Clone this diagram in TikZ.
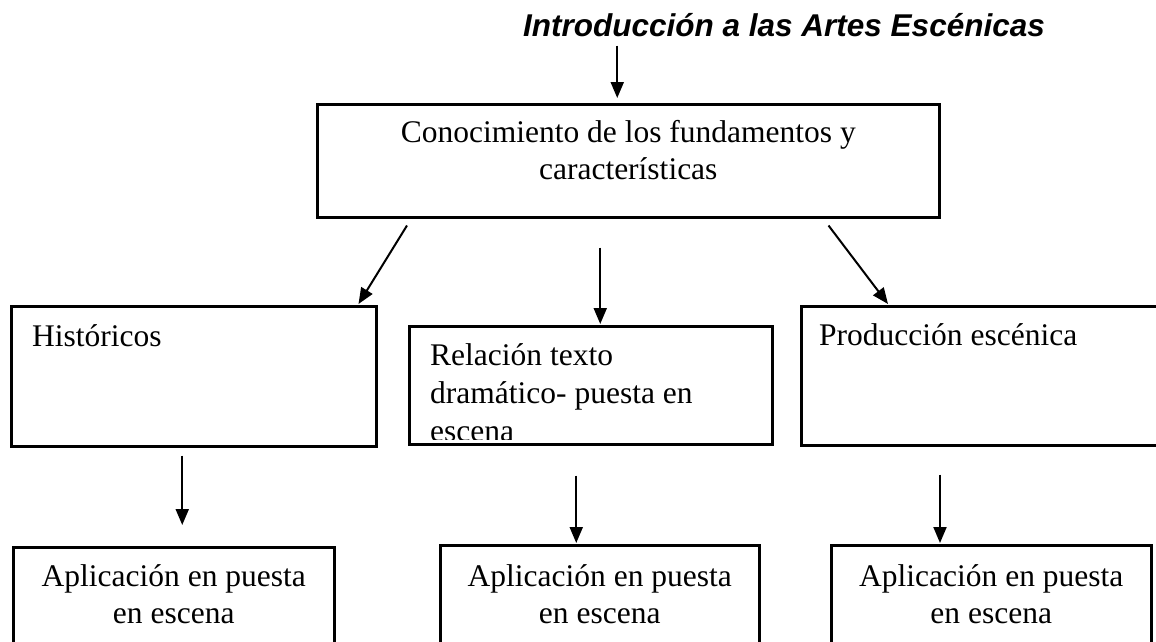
\documentclass[tikz,border=0pt]{standalone}
\usepackage{fontspec}
\setmainfont{Liberation Serif}
\newfontfamily\titlefont{Liberation Sans}
\usetikzlibrary{arrows.meta,calc}

\begin{document}
\begin{tikzpicture}[x=1pt,y=-1pt,>={Triangle[length=16pt,width=13pt]},
 box/.style={draw,line width=2.5pt,anchor=north west,inner sep=0pt},
 txt/.style={inner sep=0pt,align=left,font=\fontsize{31.5}{37}\selectfont},
 link/.style={->,line width=2pt}]
\useasboundingbox (0,0) rectangle (1156,641);
\clip (0,0) rectangle (1156,641);
\node[inner sep=0pt,anchor=base,font=\titlefont\bfseries\itshape\fontsize{31.5}{37}\selectfont]
 (title) at (784,36) {Introducción a las Artes Escénicas};
% boxes
\node[box,minimum width=622pt,minimum height=113pt] (found) at (316,103) {};
\node[box,minimum width=365pt,minimum height=140pt] (hist) at (10,305) {};
\node[box,minimum width=363pt,minimum height=118pt] (rel) at (408,325) {};
\node[box,minimum width=380pt,minimum height=139pt] (prod) at (800,305) {};
\node[box,minimum width=321pt,minimum height=160pt] (appA) at (12,546) {};
\node[box,minimum width=319pt,minimum height=160pt] (appB) at (439,544) {};
\node[box,minimum width=320pt,minimum height=160pt] (appC) at (830,544) {};
% texts (base = last line)
\node[txt,align=center,anchor=base] (foundtxt) at ($(found.north)+(0,76)$)
 {Conocimiento de los fundamentos y\\características};
\node[txt,anchor=base west] (histtxt) at ($(hist.north west)+(22,41)$) {Históricos};
\node[txt,anchor=base west] (prodtxt) at ($(prod.north west)+(19,40)$) {Producción escénica};
\begin{scope}
\clip ($(rel.north west)+(1,1)$) rectangle ($(rel.south east)+(-1,-6)$);
\node[txt,anchor=base west,font=\fontsize{31.5}{38}\selectfont] (reltxt) at ($(rel.north west)+(22,116)$)
 {Relación texto\\dramático- puesta en\\escena};
\end{scope}
\node[txt,align=center,anchor=base] (appAtxt) at ($(appA.north)+(0,77)$) {Aplicación en puesta\\en escena};
\node[txt,align=center,anchor=base] (appBtxt) at ($(appB.north)+(0,79)$) {Aplicación en puesta\\en escena};
\node[txt,align=center,anchor=base] (appCtxt) at ($(appC.north)+(0,79)$) {Aplicación en puesta\\en escena};
% arrows
\draw[link] ($(title.south -| found.north)+(-11,9)$) -- ($(found.north)+(-11,-5)$);
\draw[link] ($(found.south west)+(91,7)$) -- ($(hist.north east)+(-19,-1)$);
\draw[link] ($(found.south -| rel.north)+(9.5,29)$) -- ($(rel.north)+(9.5,-1)$);
\draw[link] ($(found.south east)+(-112,7)$) -- ($(prod.north west)+(88,-1)$);
\draw[link] ($(hist.south)+(-11.5,8)$) -- ($(hist.south |- appA.north)+(-11.5,-21)$);
\draw[link] ($(rel.south)+(-14.5,30)$) -- ($(rel.south |- appB.north)+(-14.5,-1)$);
\draw[link] ($(prod.south west)+(140,28)$) -- ($(prod.south west |- appC.north)+(140,-1)$);
\end{tikzpicture}
\end{document}
